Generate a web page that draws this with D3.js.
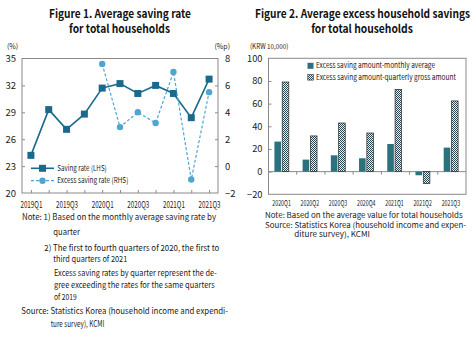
<!DOCTYPE html>
<html><head><meta charset="utf-8">
<script src="https://cdn.jsdelivr.net/npm/d3@7"></script>
<style>
html,body{margin:0;padding:0;background:#fff;}
svg{display:block;}
text{font-family:'Liberation Sans Narrow','Noto Sans CJK KR','Noto Sans',sans-serif;fill:#222;}
.title{font-family:'Noto Sans CJK KR','Noto Sans',sans-serif;font-weight:bold;fill:#111;}
</style>
</head><body>
<script>
// ---------- DATA ----------
const quarters1 = ["2019Q1","2019Q2","2019Q3","2019Q4","2020Q1","2020Q2","2020Q3","2020Q4","2021Q1","2021Q2","2021Q3"];
const savingRate = [24.2,29.3,27.1,28.8,31.7,32.2,31.1,32.0,31.1,28.4,32.7];
const excessQuarters = ["2020Q1","2020Q2","2020Q3","2020Q4","2021Q1","2021Q2","2021Q3"];
const excessRate = [7.6,2.9,4.0,3.2,7.0,-1.0,5.5];
const leftTicks = [20,23,26,29,32,35];
const rightTicks = [-2,0,2,4,6,8];
const xLabels1 = ["2019Q1","2019Q3","2020Q1","2020Q3","2021Q1","2021Q3"];

const quarters2 = ["2020Q1","2020Q2","2020Q3","2020Q4","2021Q1","2021Q2","2021Q3"];
const monthlyAvg = [26.5,10.6,14.4,11.8,24.4,-3.2,21.2];
const quarterlyGross = [79.1,31.5,42.9,34.1,72.6,-10.6,62.4];
const ticks2 = [-20,0,20,40,60,80,100];

const seriesNames1 = ["Saving rate (LHS)","Excess saving rate (RHS)"];
const seriesNames2 = ["Excess saving amount-monthly average","Excess saving amount-quarterly gross amount"];

const title1 = ["Figure 1. Average saving rate","for total households"];
const title2 = ["Figure 2. Average excess household savings","for total households"];

// ---------- SVG ----------
const W=475,H=338;
const svg=d3.select("body").append("svg").attr("width",W).attr("height",H);
const defs=svg.append("defs");
const pat=defs.append("pattern").attr("id","hatch").attr("patternUnits","userSpaceOnUse")
  .attr("width",2).attr("height",2);
pat.append("rect").attr("width",2).attr("height",2).attr("fill","#e9eef0");
pat.append("path").attr("d","M0,0h1v1h-1z M1,1h1v1h-1z").attr("fill","#2a4650");

function fit(t,w){ t.attr("textLength",w).attr("lengthAdjust","spacingAndGlyphs"); return t; }
function txt(x,y,s,size,anchor,w,cls){
  const t=svg.append("text").attr("x",x).attr("y",y).attr("font-size",size)
    .attr("text-anchor",anchor||"start").text(s);
  if(cls) t.attr("class",cls);
  if(w) fit(t,w);
  return t;
}

const frameColor="#8a8a8a";
const c1="#1b6a8e", c2="#4ea6cf", barC="#2b727e";

// ---------- Titles ----------
txt(120,17.5,title1[0],11.5,"middle",142,"title");
txt(119.5,32.5,title1[1],11.5,"middle",101,"title");
txt(362.5,17.5,title2[0],11.5,"middle",215,"title");
txt(362,32.5,title2[1],11.5,"middle",101.7,"title");

// ---------- Chart 1 ----------
const L={x0:22,x1:218,y0:58.5,y1:193};
const x1=d3.scalePoint().domain(quarters1).range([L.x0,L.x1]).padding(0.5);
const yL=d3.scaleLinear().domain([20,35]).range([L.y1,L.y0]);
const yR=d3.scaleLinear().domain([-2,8]).range([L.y1,L.y0]);
const g1=svg.append("g");
g1.append("rect").attr("x",L.x0).attr("y",L.y0).attr("width",L.x1-L.x0).attr("height",L.y1-L.y0)
  .attr("fill","none").attr("stroke",frameColor).attr("stroke-width",1);
const axL=g1.append("g").attr("transform",`translate(${L.x0},0)`)
  .call(d3.axisLeft(yL).tickValues(leftTicks).tickSize(-3).tickPadding(6));
const axR=g1.append("g").attr("transform",`translate(${L.x1},0)`)
  .call(d3.axisRight(yR).tickValues(rightTicks).tickSize(-3).tickPadding(7));
const axB=g1.append("g").attr("transform",`translate(0,${L.y1})`)
  .call(d3.axisBottom(x1).tickSize(-3).tickPadding(8).tickFormat(d=>xLabels1.includes(d)?d:""));
[axL,axR,axB].forEach(a=>{a.select(".domain").remove();a.selectAll("line").attr("stroke",frameColor);
  a.selectAll("text").attr("fill","#222").style("font-family","'Liberation Sans Narrow','Noto Sans CJK KR',sans-serif");});
axL.selectAll("text").attr("font-size",9.5);
axR.selectAll("text").attr("font-size",9.5);
axB.selectAll("text").attr("font-size",9.3).filter(d=>xLabels1.includes(d))
  .attr("textLength",22).attr("lengthAdjust","spacingAndGlyphs");
axL.selectAll(".tick").filter(d=>d===20||d===35).select("line").remove();
axR.selectAll(".tick").filter(d=>d===-2||d===8).select("line").remove();

g1.append("path").datum(savingRate).attr("fill","none").attr("stroke",c1).attr("stroke-width",1.6)
  .attr("d",d3.line().x((d,i)=>x1(quarters1[i])).y(d=>yL(d)));
g1.selectAll(".sq").data(savingRate).join("rect").attr("class","sq")
  .attr("x",(d,i)=>x1(quarters1[i])-3.5).attr("y",d=>yL(d)-3.5).attr("width",7).attr("height",7).attr("fill",c1);
g1.append("path").datum(excessRate).attr("fill","none").attr("stroke",c2).attr("stroke-width",1.2)
  .attr("stroke-dasharray","3,2")
  .attr("d",d3.line().x((d,i)=>x1(excessQuarters[i])).y(d=>yR(d)));
g1.selectAll(".ci").data(excessRate).join("circle").attr("class","ci")
  .attr("cx",(d,i)=>x1(excessQuarters[i])).attr("cy",d=>yR(d)).attr("r",3.2).attr("fill",c2);

txt(7,48.5,"(%)",7,"start");
txt(214.5,48.5,"(%p)",7,"start");

const lg1=svg.append("g");
lg1.append("line").attr("x1",31).attr("x2",54).attr("y1",168.3).attr("y2",168.3).attr("stroke",c1).attr("stroke-width",1.6);
lg1.append("rect").attr("x",42.5-3.5).attr("y",168.3-3.5).attr("width",7).attr("height",7).attr("fill",c1);
lg1.append("line").attr("x1",31).attr("x2",54).attr("y1",180.7).attr("y2",180.7).attr("stroke",c2).attr("stroke-width",1.2).attr("stroke-dasharray","3,2");
lg1.append("circle").attr("cx",42.5).attr("cy",180.7).attr("r",3.2).attr("fill",c2);
txt(57.3,171,seriesNames1[0],8,"start",49.4);
txt(57.3,183.4,seriesNames1[1],8,"start",71);

// ---------- Chart 2 ----------
const R={x0:268.5,x1:466,y0:58.3,y1:194.3};
const x2=d3.scaleBand().domain(quarters2).range([R.x0,R.x1]);
const y2=d3.scaleLinear().domain([-20,100]).range([R.y1,R.y0]);
const g2=svg.append("g");
g2.append("rect").attr("x",R.x0).attr("y",R.y0).attr("width",R.x1-R.x0).attr("height",R.y1-R.y0)
  .attr("fill","none").attr("stroke",frameColor).attr("stroke-width",1);
const ax2=g2.append("g").attr("transform",`translate(${R.x0},0)`)
  .call(d3.axisLeft(y2).tickValues(ticks2).tickSize(-3).tickPadding(6));
ax2.select(".domain").remove();
ax2.selectAll("line").attr("stroke",frameColor);
ax2.selectAll(".tick").filter(d=>d===-20||d===100).select("line").remove();
ax2.selectAll("text").attr("font-size",9.3).attr("fill","#222");
g2.append("line").attr("x1",R.x0).attr("x2",R.x1).attr("y1",y2(0)).attr("y2",y2(0)).attr("stroke",frameColor).attr("stroke-width",1);
g2.selectAll(".bt").data(quarters2.slice(1)).join("line").attr("class","bt")
  .attr("x1",d=>x2(d)).attr("x2",d=>x2(d)).attr("y1",y2(0)).attr("y2",y2(0)+3).attr("stroke",frameColor);
g2.selectAll(".xl").data(quarters2).join("text").attr("class","xl")
  .attr("x",d=>x2(d)+x2.bandwidth()/2-1).attr("y",206).attr("font-size",8).attr("text-anchor","middle")
  .attr("textLength",18.5).attr("lengthAdjust","spacingAndGlyphs").text(d=>d);
const bw=6.6, gap=1.2;
g2.selectAll(".b1").data(monthlyAvg).join("rect").attr("class","b1")
  .attr("x",(d,i)=>x2(quarters2[i])+x2.bandwidth()/2-1-gap/2-bw)
  .attr("y",d=>y2(Math.max(0,d))).attr("width",bw).attr("height",d=>Math.abs(y2(d)-y2(0))).attr("fill",barC);
g2.selectAll(".b2").data(quarterlyGross).join("rect").attr("class","b2")
  .attr("x",(d,i)=>x2(quarters2[i])+x2.bandwidth()/2-1+gap/2)
  .attr("y",d=>y2(Math.max(0,d))).attr("width",bw).attr("height",d=>Math.abs(y2(d)-y2(0)))
  .attr("fill","url(#hatch)").attr("stroke","#2a2a2a").attr("stroke-width",0.7);
txt(250,49,"(KRW 10,000)",7,"start",38.3);
svg.append("rect").attr("x",307.5).attr("y",62.8).attr("width",6).attr("height",6).attr("fill",barC);
svg.append("rect").attr("x",307.8).attr("y",74.6).attr("width",5.5).attr("height",5.5).attr("fill","url(#hatch)").attr("stroke","#2a2a2a").attr("stroke-width",0.6);
txt(316,68.4,seriesNames2[0],7.8,"start",119);
txt(316,80,seriesNames2[1],7.8,"start",140);

// ---------- Notes ----------
const notesL=[
 [22,219.5,"Note: 1) Based on the monthly average saving rate by",194],
 [53.3,235,"quarter",26.7],
 [44.3,250.5,"2) The first to fourth quarters of 2020, the first to",175],
 [53.3,262,"third quarters of 2021",74],
 [54,276,"Excess saving rates by quarter represent the de-",162.7],
 [54,288,"gree exceeding the rates for the same quarters",160.7],
 [54,299.5,"of 2019",22.7],
 [21.3,314,"Source: Statistics Korea (household income and expendi-",206.7],
 [50.7,327,"ture survey), KCMI",53.6]
];
notesL.forEach(n=>txt(n[0],n[1],n[2],8.4,"start",n[3]));
const notesR=[
 [265,218.4,"Note: Based on the average value for total households",197.7],
 [265,228,"Source: Statistics Korea (household income and expen-",201],
 [294.3,237.3,"diture survey), KCMI",75.7]
];
notesR.forEach(n=>txt(n[0],n[1],n[2],7.9,"start",n[3]));
</script>
</body></html>
